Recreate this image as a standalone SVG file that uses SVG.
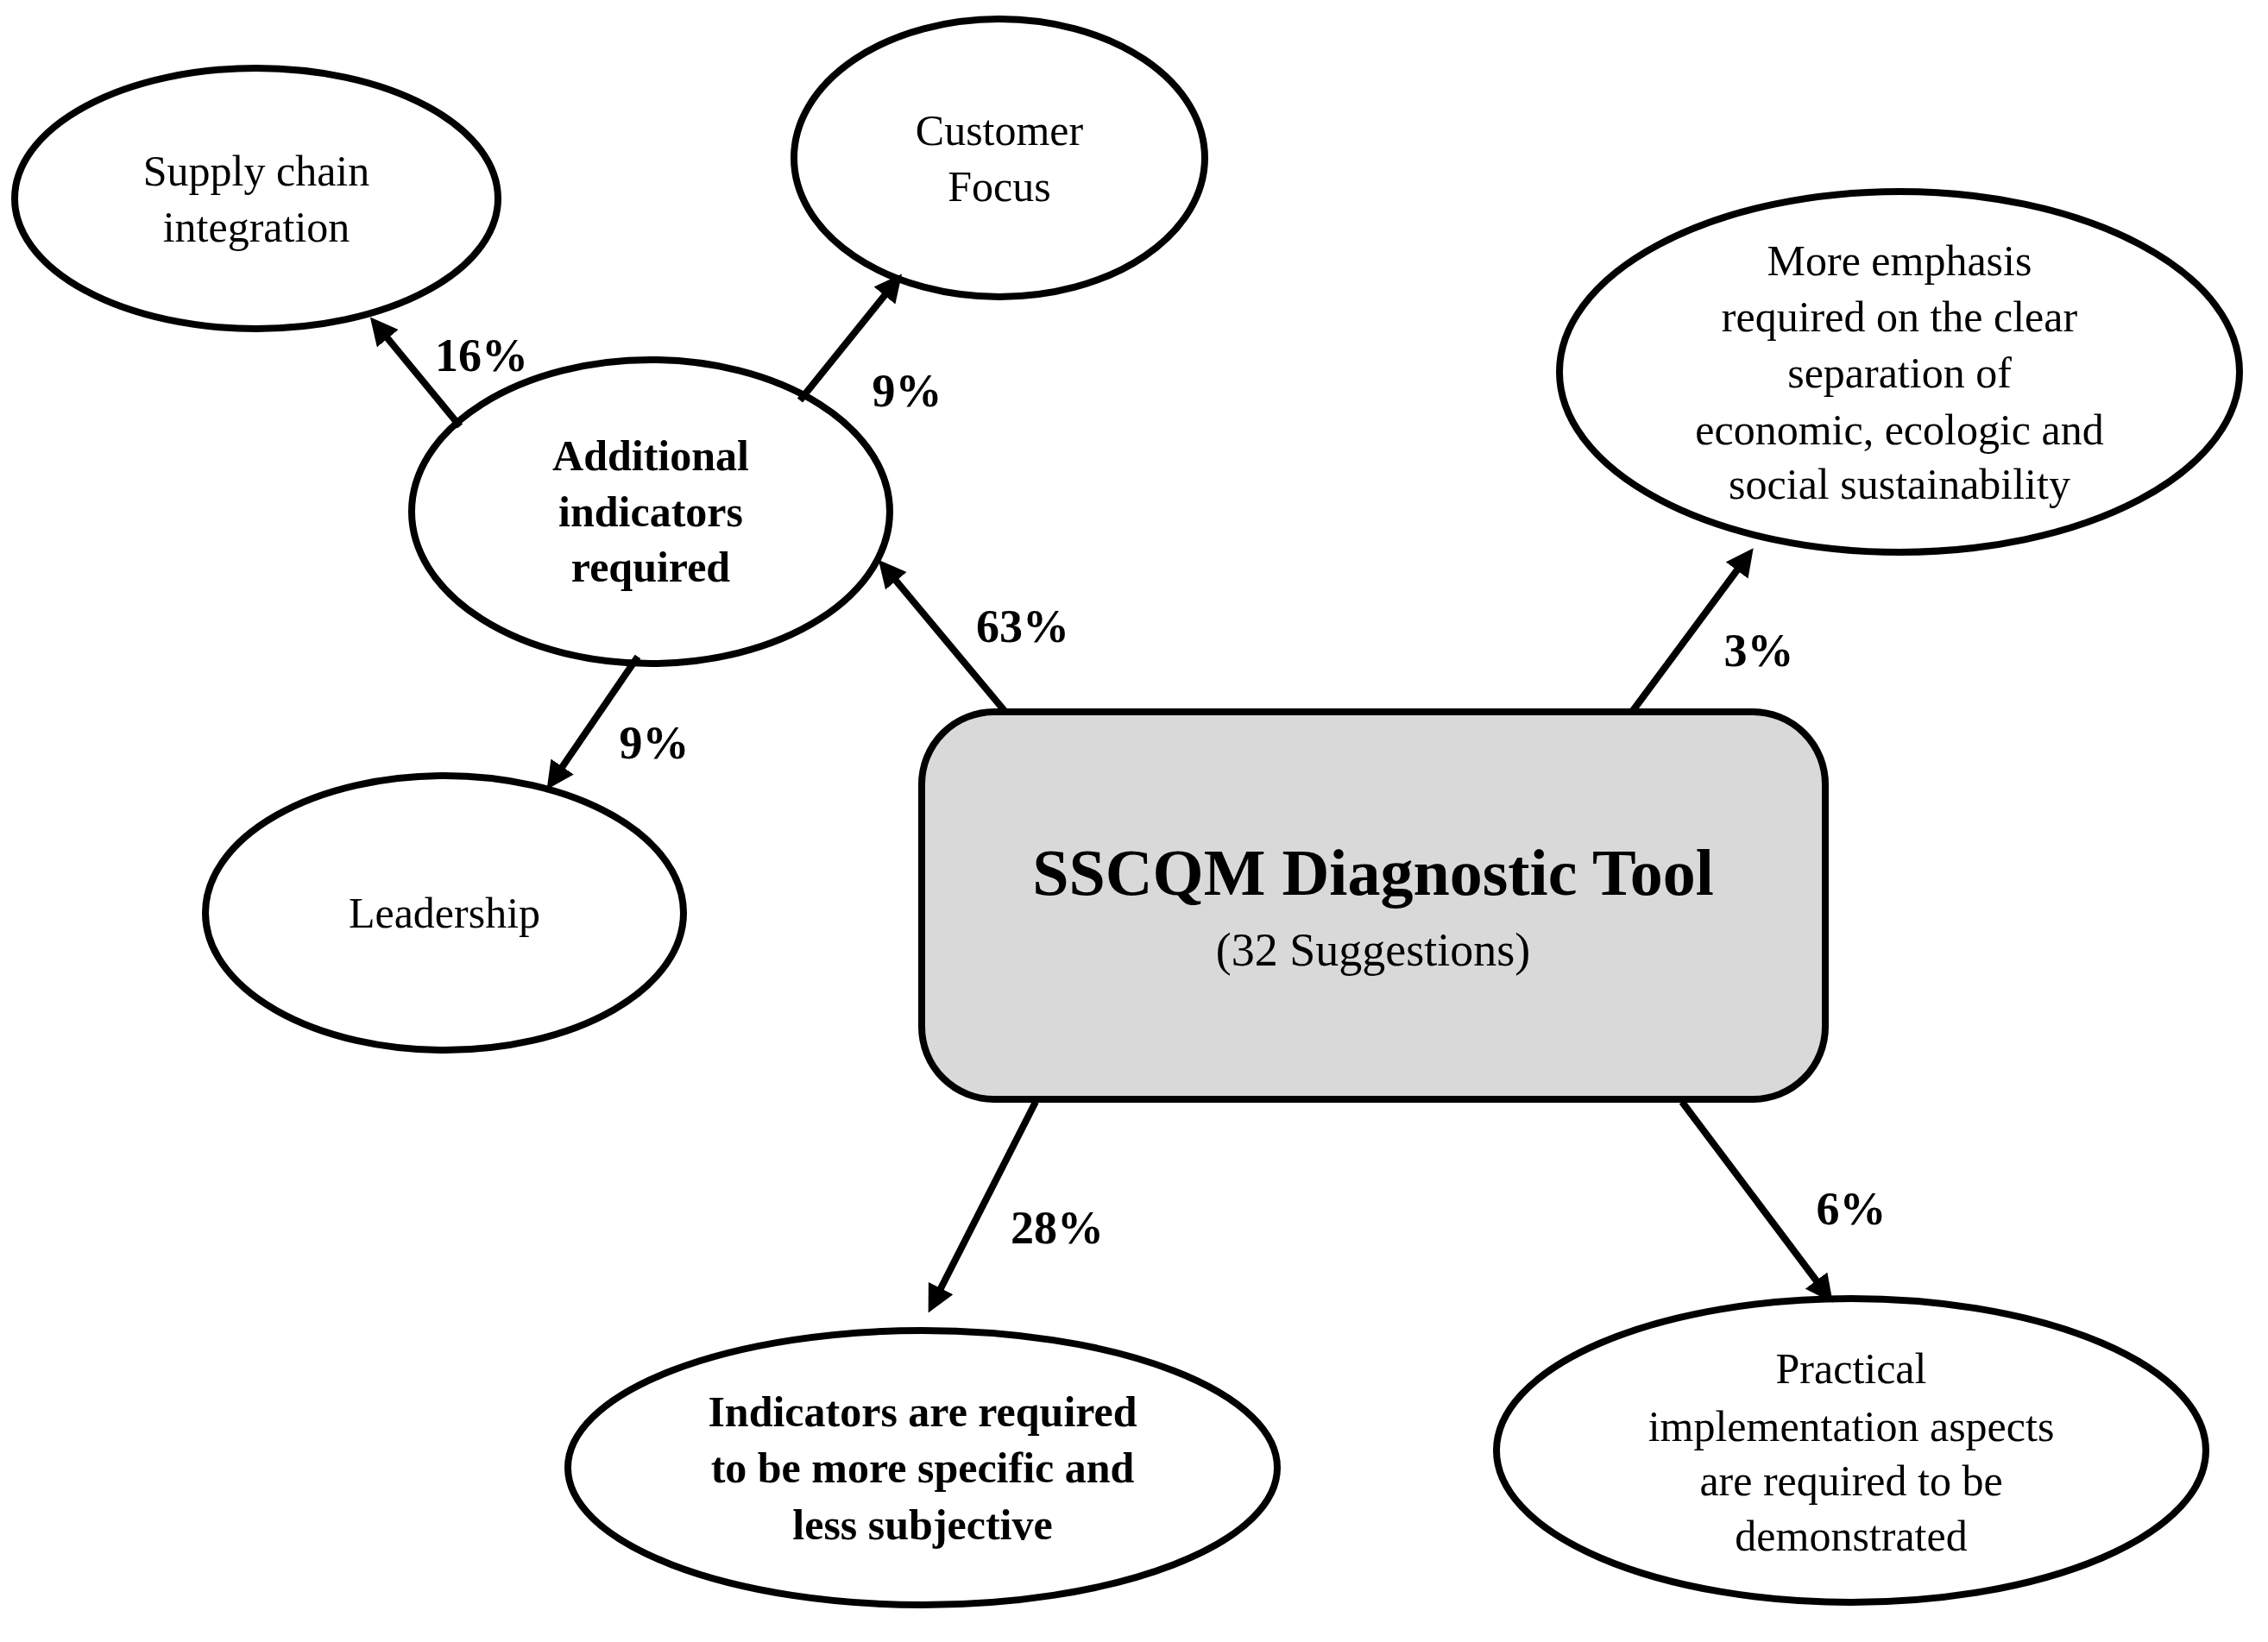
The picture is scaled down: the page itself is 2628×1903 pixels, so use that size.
<svg xmlns="http://www.w3.org/2000/svg" width="2628" height="1903" viewBox="0 0 2628 1903">
<style>
.n{fill:#fff;stroke:#000;stroke-width:8}
text{font-family:"Liberation Serif",serif;font-size:50px;text-anchor:middle;dominant-baseline:central;fill:#000}
.b{font-weight:bold}
.l{font-weight:bold;font-size:54px}
.c line{stroke:#000;stroke-width:8;marker-end:url(#a)}
</style>
<defs><marker id="a" viewBox="0 0 10 10" refX="7" refY="5" markerWidth="4" markerHeight="4" orient="auto" markerUnits="strokeWidth"><path d="M0,0L10,5L0,10z" fill="#000"/></marker></defs>
<g id="center"><rect class="n" x="1068" y="825" width="1047" height="449" rx="84" style="fill:#d9d9d9"/><text x="1591" y="1011" class="b" style="font-size:76px">SSCQM Diagnostic Tool</text><text x="1591" y="1101" style="font-size:54px">(32 Suggestions)</text></g>
<g id="supply"><ellipse class="n" cx="297" cy="230" rx="280" ry="151"/><text x="297" y="198">Supply chain</text><text x="297" y="263">integration</text></g>
<g id="customer"><ellipse class="n" cx="1158" cy="183" rx="238" ry="161"/><text x="1158" y="151">Customer</text><text x="1158" y="216">Focus</text></g>
<g id="additional"><ellipse class="n" cx="754" cy="593" rx="277" ry="176"/><text class="b" x="754" y="528">Additional</text><text class="b" x="754" y="593">indicators</text><text class="b" x="754" y="657">required</text></g>
<g id="leadership"><ellipse class="n" cx="515" cy="1058" rx="277" ry="159"/><text x="515" y="1058">Leadership</text></g>
<g id="emphasis"><ellipse class="n" cx="2201" cy="431" rx="394" ry="209"/><text x="2201" y="302">More emphasis</text><text x="2201" y="367">required on the clear</text><text x="2201" y="432">separation of</text><text x="2201" y="498">economic, ecologic and</text><text x="2201" y="561">social sustainability</text></g>
<g id="specific"><ellipse class="n" cx="1069" cy="1701" rx="411" ry="159"/><text class="b" x="1069" y="1636">Indicators are required</text><text class="b" x="1069" y="1701">to be more specific and</text><text class="b" x="1069" y="1767">less subjective</text></g>
<g id="practical"><ellipse class="n" cx="2145" cy="1681" rx="411" ry="176"/><text x="2145" y="1586">Practical</text><text x="2145" y="1653">implementation aspects</text><text x="2145" y="1716">are required to be</text><text x="2145" y="1780">demonstrated</text></g>
<g id="connectors" class="c">
<line x1="1165" y1="825" x2="1024" y2="656"/>
<line x1="1891" y1="825" x2="2026" y2="643"/>
<line x1="1200" y1="1277" x2="1080" y2="1513"/>
<line x1="1949" y1="1277" x2="2118" y2="1502"/>
<line x1="533" y1="494" x2="435" y2="375"/>
<line x1="927" y1="464" x2="1039" y2="325"/>
<line x1="739" y1="761" x2="639" y2="907"/>
</g>
<g id="labels">
<text class="l" x="1185" y="726">63%</text>
<text class="l" x="2038" y="754">3%</text>
<text class="l" x="1225" y="1423">28%</text>
<text class="l" x="2145" y="1401">6%</text>
<text class="l" x="558" y="412">16%</text>
<text class="l" x="1051" y="453">9%</text>
<text class="l" x="758" y="861">9%</text>
</g>
</svg>
